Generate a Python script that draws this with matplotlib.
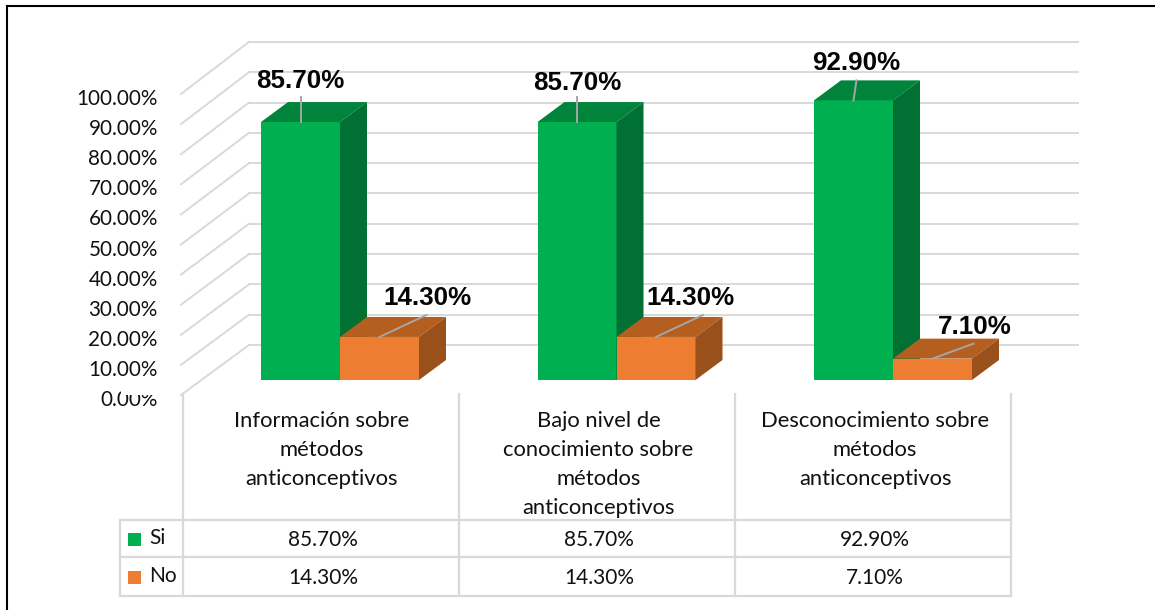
import matplotlib
matplotlib.use('Agg')
import matplotlib.pyplot as plt
from matplotlib.patches import Rectangle

categories = ['Información sobre\nmétodos\nanticonceptivos',
              'Bajo nivel de\nconocimiento sobre\nmétodos\nanticonceptivos',
              'Desconocimiento sobre\nmétodos\nanticonceptivos']
si = [85.7, 85.7, 92.9]
no = [14.3, 14.3, 7.1]
levels = [0, 10, 20, 30, 40, 50, 60, 70, 80, 90, 100]

W, H = 1155, 610
PX_X = 276.5      # pixels per category
PX_Y = 3.01       # pixels per percent
X0, Y0 = 340, 380 # pixel of category 0, value 0
BAR = 79 / PX_X
DX = 27 / PX_X    # depth of the bars
DY = 20 / PX_Y

plt.rcParams['font.family'] = ['Lato', 'DejaVu Sans']
fig = plt.figure(figsize=(W / 100, H / 100), dpi=100)

# chart axes, bottom edge sits just under the front of the floor
left, bottom = 162, 400
ax = fig.add_axes([left / W, (H - bottom) / H, (W - left) / W, bottom / H])
ax.set_xlim((left - X0) / PX_X, (W - X0) / PX_X)
for s in ax.spines.values():
    s.set_visible(False)
ax.patch.set_alpha(0)

# walls
grid = '#d9d9d9'
front_x = (181 - X0) / PX_X
back_x = (249 - X0) / PX_X
right_x = (1078 - X0) / PX_X
front_off = (Y0 - 395) / PX_Y
back_off = (Y0 - 345) / PX_Y
for v in levels:
    yb = back_off + v * 1.007
    ax.plot([front_x, back_x], [front_off + v, yb], color=grid, lw=1.4, zorder=1)
    ax.plot([back_x, right_x], [yb, yb], color=grid, lw=1.4, zorder=1)

ax.set_yticks([front_off - 3 / PX_Y + v for v in levels], ['%.2f%%' % v for v in levels])
centers = [i - 18 / PX_X for i in range(len(categories))]
ax.set_xticks(centers, categories, linespacing=1.56)
ax.tick_params(axis='y', length=0, pad=3, labelsize=14.9, labelcolor='#111111')
ax.tick_params(axis='x', length=0, pad=8, labelsize=15.8, labelcolor='#111111')
ax.set_ylim((Y0 - bottom) / PX_Y, Y0 / PX_Y)


def bar3d(x, v, front, top, side, z):
    ax.bar(x, v, width=BAR, align='edge', color=front, zorder=z)
    ax.fill([x, x + DX, x + BAR + DX, x + BAR], [v, v + DY, v + DY, v], color=top, lw=0, zorder=z)
    ax.fill([x + BAR, x + BAR + DX, x + BAR + DX, x + BAR], [0, DY, v + DY, v], color=side, lw=0, zorder=z)


for i in range(len(si)):
    bar3d(i - BAR, si[i], '#00b050', '#00843c', '#007033', 3)
    bar3d(i, no[i], '#ed7d31', '#b45f20', '#9a501b', 4)

# leader end and label centre, pixels from the middle of the bar's top edge
si_leader = [(0, -25), (0, -25), (3, -20)]
si_label = [(0, -41), (0, -39), (3, -37)]
no_leader = [(47, -22), (47, -22), (41, -15)]
no_label = [(48, -39), (34, -39), (42, -32)]


def label(x, v, text, end, pos):
    ax.plot([x, x + end[0] / PX_X], [v, v - end[1] / PX_Y], color='#a6a6a6', lw=1.4, zorder=5)
    ax.text(x + pos[0] / PX_X, v - pos[1] / PX_Y, text, ha='center', va='center',
            family='Liberation Sans', weight='bold', fontsize=18.7, color='#050505', zorder=6)


for i in range(len(si)):
    label(i - BAR / 2, si[i], '%.2f%%' % si[i], si_leader[i], si_label[i])
    label(i + BAR / 2, no[i], '%.2f%%' % no[i], no_leader[i], no_label[i])

# table and frame are laid out in pixels
tb = fig.add_axes([0, 0, 1, 1], zorder=2)
tb.set_xlim(0, W)
tb.set_ylim(H, 0)
tb.axis('off')
tb.patch.set_alpha(0)

col_x = [183, 459, 735, 1011]
row_y = [520, 557, 596]
for x in col_x:
    tb.plot([x, x], [394, row_y[-1]], color=grid, lw=1.6)
tb.plot([120, 120], [row_y[0], row_y[-1]], color=grid, lw=1.6)
for y in row_y:
    tb.plot([120, col_x[-1]], [y, y], color=grid, lw=1.6)

rows = [('Si', si, '#00b050'), ('No', no, '#ed7d31')]
for r, (name, vals, col) in enumerate(rows):
    yc = (row_y[r] + row_y[r + 1]) / 2
    tb.add_patch(Rectangle((128, yc - 6), 13, 13, color=col, lw=0))
    tb.text(149, yc, name, ha='left', va='center', fontsize=15, color='#111111')
    for c, v in enumerate(vals):
        tb.text((col_x[c] + col_x[c + 1]) / 2 + 2, yc + 1, '%.2f%%' % v, ha='center', va='center',
                fontsize=15, color='#111111')

# the reference has the top of the zero label cut off
tb.add_patch(Rectangle((121, 384), 42, 11, color='white', lw=0))

tb.plot([7, 7], [H, 6], color='black', lw=1.5)
tb.plot([7, W], [6, 6], color='black', lw=1.5)

fig.savefig('out.png', dpi=100)
